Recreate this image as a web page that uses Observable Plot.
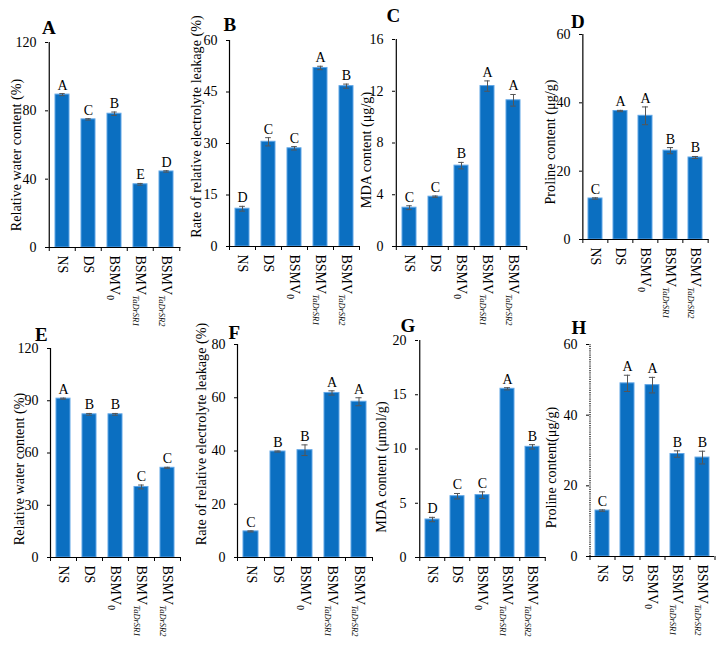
<!DOCTYPE html>
<html><head><meta charset="utf-8">
<script src="https://cdn.jsdelivr.net/npm/d3@7"></script>
<script src="https://cdn.jsdelivr.net/npm/@observablehq/plot@0.6"></script>
<style>
body{margin:0;background:#fff;}
#root{position:relative;width:722px;height:649px;overflow:hidden;background:#fff;}
#root svg{position:absolute;overflow:visible;}
</style></head><body><div id="root"></div>
<script>
// ---- data ----
const categories = ["NS", "DS", "BSMV0", "BSMVTaDrSR1", "BSMVTaDrSR2"];
const categoryBase = ["NS", "DS", "BSMV", "BSMV", "BSMV"];
const categorySub = ["", "", "0", "TaDrSR1", "TaDrSR2"];

const valuesA = [89.5, 75, 78.3, 37, 44.5];
const errorsA = [0.6, 0.4, 1.0, 0.5, 0.4];
const lettersA = ["A", "C", "B", "E", "D"];
const ticksA = [0, 40, 80, 120];

const valuesB = [11, 30.5, 28.6, 52, 46.7];
const errorsB = [0.7, 1.2, 0.5, 0.5, 0.6];
const lettersB = ["D", "C", "C", "A", "B"];
const ticksB = [0, 15, 30, 45, 60];

const valuesC = [3.0, 3.85, 6.25, 12.4, 11.3];
const errorsC = [0.15, 0.05, 0.25, 0.4, 0.45];
const lettersC = ["C", "C", "B", "A", "A"];
const ticksC = [0, 4, 8, 12, 16];

const valuesD = [12, 37.6, 36.2, 26, 24];
const errorsD = [0.2, 0.2, 2.6, 0.9, 0.3];
const lettersD = ["C", "A", "A", "B", "B"];
const ticksD = [0, 20, 40, 60];

const valuesE = [91.2, 82.2, 82.2, 40.5, 51.5];
const errorsE = [0.3, 0.5, 0.5, 1.1, 0.3];
const lettersE = ["A", "B", "B", "C", "C"];
const ticksE = [0, 30, 60, 90, 120];

const valuesF = [9.8, 39.8, 40.3, 61.8, 58.5];
const errorsF = [0.2, 0.2, 2.0, 0.8, 1.5];
const lettersF = ["C", "B", "B", "A", "A"];
const ticksF = [0, 20, 40, 60, 80];

const valuesG = [3.5, 5.65, 5.75, 15.55, 10.2];
const errorsG = [0.2, 0.25, 0.3, 0.1, 0.2];
const lettersG = ["D", "C", "C", "A", "B"];
const ticksG = [0, 5, 10, 15, 20];

const valuesH = [13, 49, 48.5, 29, 28];
const errorsH = [0.2, 2.3, 2.2, 0.9, 1.8];
const lettersH = ["C", "A", "A", "B", "B"];
const ticksH = [0, 20, 40, 60];

const titles = [
  "Relative water content (%)",
  "Rate of relative electrolyte leakage (%)",
  "MDA content (\u03bcg/g)",
  "Proline content (\u03bcg/g)",
  "Relative water content (%)",
  "Rate of relative electrolyte leakage (%)",
  "MDA content (\u03bcmol/g)",
  "Proline content(\u03bcg/g)"
];
const panelLetters = ["A", "B", "C", "D", "E", "F", "G", "H"];

// ---- layout (pixel geometry of each panel) ----
const layout = [
  {ax: 48,  top: 42,  zero: 247, right: 180.5, T: 0,   H: 330, off: 38, ldy: 10,  lx: 41.5, lb: 33.5, dash: null},
  {ax: 229, top: 40,  zero: 246, right: 359,   T: 0,   H: 330, off: 39, ldy: -17, lx: 223,  lb: 30.5, dash: null},
  {ax: 395, top: 39,  zero: 246, right: 527,   T: 0,   H: 330, off: 35, ldy: 7,   lx: 386,  lb: 21.5, dash: null},
  {ax: 582, top: 34,  zero: 239, right: 708.5, T: 0,   H: 330, off: 38, ldy: 5,   lx: 570.5,lb: 27.5, dash: null},
  {ax: 50,  top: 348, zero: 557, right: 180,   T: 320, H: 329, off: 37, ldy: 16,  lx: 34.5, lb: 340,  dash: null},
  {ax: 237, top: 344, zero: 557, right: 372,   T: 320, H: 329, off: 42, ldy: -17, lx: 228,  lb: 338,  dash: null},
  {ax: 418, top: 340, zero: 557, right: 545.5, T: 320, H: 329, off: 43, ldy: 18,  lx: 400,  lb: 331,  dash: null},
  {ax: 589, top: 344, zero: 556, right: 714,   T: 320, H: 329, off: 44, ldy: 17,  lx: 571,  lb: 333,  dash: "1.2,1"}
];

const series = [
  [valuesA, errorsA, lettersA, ticksA],
  [valuesB, errorsB, lettersB, ticksB],
  [valuesC, errorsC, lettersC, ticksC],
  [valuesD, errorsD, lettersD, ticksD],
  [valuesE, errorsE, lettersE, ticksE],
  [valuesF, errorsF, lettersF, ticksF],
  [valuesG, errorsG, lettersG, ticksG],
  [valuesH, errorsH, lettersH, ticksH]
];

const root = document.getElementById("root");
const FONT = '"Liberation Serif", "Times New Roman", Times, serif';
const NS_SVG = "http://www.w3.org/2000/svg";

layout.forEach((cfg, k) => {
  const [vals, errs, lets, ticks] = series[k];
  const rows = categories.map((c, i) => ({c, v: vals[i], e: errs[i], g: lets[i]}));
  const mL = 48;
  const L = cfg.ax - mL;
  const W = cfg.right - L + 10;
  const step = (cfg.right - cfg.ax) / categories.length;
  const p = 0.45;
  const bw = step * (1 - p);
  const capInset = Math.max(0, (bw - 6) / 2);
  const ymax = ticks[ticks.length - 1];

  const svg = Plot.plot({
    width: W,
    height: cfg.H,
    marginLeft: mL,
    marginRight: 10,
    marginTop: cfg.top - cfg.T,
    marginBottom: cfg.T + cfg.H - cfg.zero,
    style: {background: "transparent", overflow: "visible", fontFamily: FONT, fontSize: "14px", color: "#000"},
    x: {domain: categories, paddingInner: p, paddingOuter: p / 2, tickRotate: 90, tickSize: 0, tickPadding: 8, label: null, tickFormat: d => d},
    y: {domain: [0, ymax], ticks: ticks, tickSize: 3, tickPadding: 9, label: null, tickFormat: d => String(d)},
    marks: [
      Plot.barY(rows, {x: "c", y: "v", fill: "#0b6fc1", stroke: "#5fa5e6", strokeWidth: 1}),
      Plot.ruleX(rows, {x: "c", y1: r => r.v - r.e, y2: r => r.v + r.e, stroke: "#555", strokeWidth: 1}),
      Plot.tickY(rows, {x: "c", y: r => r.v + r.e, stroke: "#555", strokeWidth: 1, inset: capInset}),
      Plot.tickY(rows, {x: "c", y: r => r.v - r.e, stroke: "#555", strokeWidth: 1, inset: capInset}),
      Plot.text(rows, {x: "c", y: r => r.v + r.e, text: "g", dy: -4, lineAnchor: "bottom", fontSize: 14, fill: "#000"}),
      // y-axis line at the left edge of the first category cell
      Plot.ruleX([categories[0]], {x: d => d, y1: 0, y2: ymax, dx: -step / 2, stroke: "#000", strokeWidth: 1.2, strokeDasharray: cfg.dash}),
      // x-axis line and boundary ticks
      Plot.ruleY([0], {stroke: "#000", strokeWidth: 1.2}),
      Plot.ruleX(categories, {x: d => d, y1: 0, y2: 0, insetBottom: -4, dx: -step / 2, stroke: "#000"}),
      Plot.ruleX([categories[categories.length - 1]], {x: d => d, y1: 0, y2: 0, insetBottom: -4, dx: step / 2, stroke: "#000"}),
      Plot.text([titles[k]], {frameAnchor: "left", text: d => d, rotate: -90, dx: -cfg.off, dy: cfg.ldy, lineAnchor: "top", textAnchor: "middle", fontSize: 14.2, fill: "#000"}),
      Plot.text([panelLetters[k]], {frameAnchor: "top-left", text: d => d, dx: cfg.lx - cfg.ax, dy: cfg.lb - cfg.top, lineAnchor: "bottom", textAnchor: "start", fontSize: 19, fontWeight: "bold", fill: "#000"})
    ]
  });
  svg.style.left = L + "px";
  svg.style.top = cfg.T + "px";

  // subscripts in category tick labels
  svg.querySelectorAll("text").forEach(t => {
    const idx = categories.indexOf(t.textContent);
    if (idx < 0 || !categorySub[idx]) return;
    t.textContent = categoryBase[idx];
    const ts = document.createElementNS(NS_SVG, "tspan");
    ts.textContent = categorySub[idx];
    ts.setAttribute("dy", "0.35em");
    ts.setAttribute("font-size", idx === 2 ? "9.5" : "8.5");
    if (idx !== 2) ts.setAttribute("font-style", "italic");
    t.appendChild(ts);
  });
  root.appendChild(svg);
});
</script></body></html>
